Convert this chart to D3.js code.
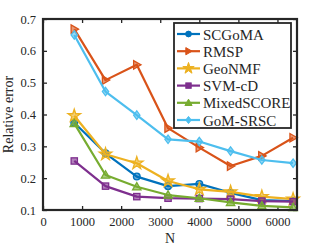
<!DOCTYPE html>
<html>
<head>
<meta charset="utf-8">
<script src="https://cdn.jsdelivr.net/npm/d3@7"></script>
<style>
  body { margin: 0; background: #fff; }
  svg text { font-family: "Liberation Serif", "DejaVu Serif", serif; fill: #262626; }
</style>
</head>
<body>
<svg id="chart" width="329" height="247"></svg>
<script>
var nValues = [800, 1600, 2400, 3200, 4000, 4800, 5600, 6400];
var seriesNames = ["SCGoMA", "RMSP", "GeoNMF", "SVM-cD", "MixedSCORE", "GoM-SRSC"];
var scgoma = [0.374, 0.278, 0.205, 0.175, 0.182, 0.154, 0.131, 0.128];
var rmsp = [0.668, 0.508, 0.556, 0.357, 0.296, 0.238, 0.270, 0.327];
var geonmf = [0.396, 0.275, 0.247, 0.191, 0.165, 0.157, 0.142, 0.134];
var svmcd = [0.254, 0.175, 0.142, 0.137, 0.136, 0.134, 0.128, 0.126];
var mixedscore = [0.372, 0.210, 0.173, 0.147, 0.137, 0.124, 0.113, 0.108];
var gomsrsc = [0.650, 0.472, 0.398, 0.322, 0.315, 0.285, 0.257, 0.247];
var xTicks = [0, 1000, 2000, 3000, 4000, 5000, 6000];
var yTicks = [0.1, 0.2, 0.3, 0.4, 0.5, 0.6, 0.7];

var colors = ["#0072BD", "#D95319", "#EDB120", "#7E2F8E", "#77AC30", "#4DBEEE"];
var symbols = ["circle", "right", "star", "square", "triangle", "diamond"];
var allValues = [scgoma, rmsp, geonmf, svmcd, mixedscore, gomsrsc];

var margin = { top: 19, right: 32, bottom: 37, left: 43 };
var width = 329 - margin.left - margin.right;
var height = 247 - margin.top - margin.bottom;

var svg = d3.select("#chart");
var g = svg.append("g").attr("transform", "translate(" + margin.left + "," + margin.top + ")");

var x = d3.scaleLinear().domain([0, 6500]).range([0, width]);
var y = d3.scaleLinear().domain([0.1, 0.7]).range([height, 0]);

function marker(sel, type, size) {
    var s = size;
    if (type === "circle") {
        sel.append("circle").attr("r", s * 0.8);
    } else if (type === "square") {
        sel.append("rect").attr("x", -s * 0.75).attr("y", -s * 0.75).attr("width", s * 1.5).attr("height", s * 1.5);
    } else if (type === "triangle") {
        sel.append("path").attr("d", "M0," + (-s) + "L" + s + "," + (s * 0.75) + "L" + (-s) + "," + (s * 0.75) + "Z");
    } else if (type === "right") {
        sel.append("path").attr("d", "M" + s + ",0L" + (-s * 0.75) + "," + (-s) + "L" + (-s * 0.75) + "," + s + "Z");
    } else if (type === "diamond") {
        sel.append("path").attr("d", "M0," + (-s) + "L" + (s * 0.75) + ",0L0," + s + "L" + (-s * 0.75) + ",0Z");
    } else if (type === "star") {
        sel.append("path").attr("d", d3.symbol().type(d3.symbolStar).size(s * s * 1.6)());
    }
}

// axes (ticks inward, mirrored)
var fmtX = function(d) { return d; };
var fmtY = d3.format(".1f");
g.append("g").attr("transform", "translate(0," + height + ")")
    .call(d3.axisBottom(x).tickValues(xTicks).tickSize(-4).tickPadding(7).tickFormat(fmtX));
g.append("g")
    .call(d3.axisTop(x).tickValues(xTicks).tickSize(-4).tickFormat(""));
g.append("g")
    .call(d3.axisLeft(y).tickValues(yTicks).tickSize(-4).tickPadding(7).tickFormat(fmtY));
g.append("g").attr("transform", "translate(" + width + ",0)")
    .call(d3.axisRight(y).tickValues(yTicks).tickSize(-4).tickFormat(""));

g.selectAll(".domain").remove();
g.selectAll(".tick line").attr("stroke", "#262626").attr("stroke-width", 1.3);
g.selectAll(".tick text").style("font-size", "12.5px");

var line = d3.line().x(function(d, i) { return x(nValues[i]); }).y(function(d) { return y(d); });

allValues.forEach(function(vals, k) {
    var sg = g.append("g").attr("class", "series");
    sg.append("path").datum(vals)
        .attr("d", line)
        .attr("fill", "none")
        .attr("stroke", colors[k])
        .attr("stroke-width", 2.2)
        .attr("stroke-linejoin", "round");
    sg.selectAll("g.pt").data(vals).enter().append("g")
        .attr("class", "pt")
        .attr("transform", function(d, i) { return "translate(" + x(nValues[i]) + "," + y(d) + ")"; })
        .each(function() { marker(d3.select(this), symbols[k], k === 2 ? 5.5 : 4.2); })
        .selectAll("*")
        .attr("fill", colors[k])
        .attr("fill-opacity", 0.6)
        .attr("stroke", colors[k])
        .attr("stroke-width", 1.3);
});

// frame
g.append("rect").attr("width", width).attr("height", height)
    .attr("fill", "none").attr("stroke", "#262626").attr("stroke-width", 2.2);

// axis labels
g.append("text").attr("x", width / 2).attr("y", height + 33)
    .attr("text-anchor", "middle").style("font-size", "14px").text("N");
g.append("text").attr("transform", "translate(" + (-30) + "," + (height / 2) + ") rotate(-90)")
    .attr("text-anchor", "middle").style("font-size", "14px").text("Relative error");

// legend
var lg = g.append("g").attr("transform", "translate(" + (174 - margin.left) + "," + (23 - margin.top) + ")");
lg.append("rect").attr("width", 117).attr("height", 105)
    .attr("fill", "#fff").attr("stroke", "#262626").attr("stroke-width", 1.8);
var item = lg.selectAll("g.item").data(seriesNames).enter().append("g")
    .attr("class", "item")
    .attr("transform", function(d, i) { return "translate(0," + (11 + i * 17.2) + ")"; });
item.append("line").attr("x1", 3).attr("x2", 26)
    .attr("stroke", function(d, i) { return colors[i]; }).attr("stroke-width", 2.2);
item.each(function(d, i) {
    var m = d3.select(this).append("g").attr("transform", "translate(14.5,0)");
    marker(m, symbols[i], i === 2 ? 5 : 3.6);
    m.selectAll("*").attr("fill", colors[i]).attr("stroke", colors[i]).attr("stroke-width", 1);
});
item.append("text").attr("x", 29).attr("y", 5.5).style("font-size", "15px").text(function(d) { return d; });
</script>
</body>
</html>
